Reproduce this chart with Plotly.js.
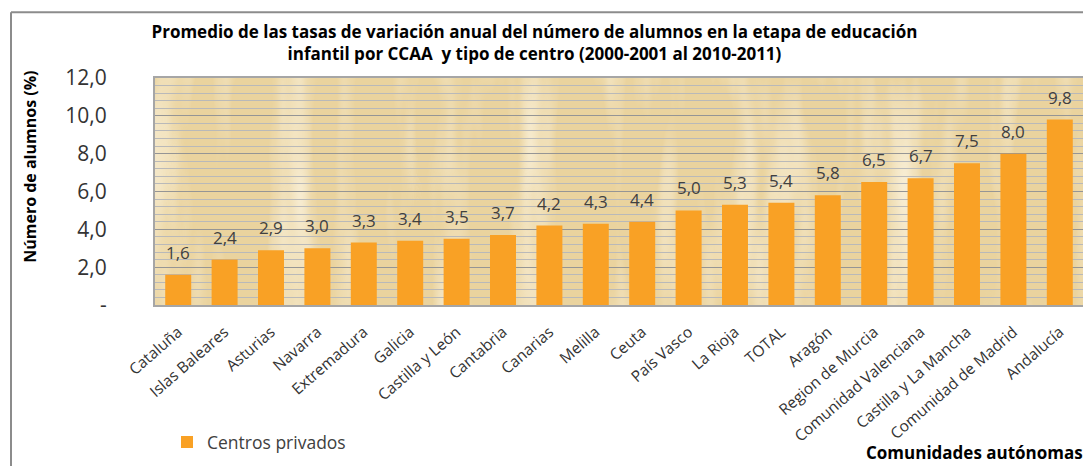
<!DOCTYPE html>
<html>
<head>
<meta charset="utf-8">
<script src="https://cdn.plot.ly/plotly-3.0.1.min.js"></script>
<style>
html,body{margin:0;padding:0;overflow:hidden;background:#fff;}
#chart{width:1083px;height:466px;}
</style>
</head>
<body>
<div id="chart"></div>
<script>
// ---- data ----
const categories = ["Cataluña","Islas Baleares","Asturias","Navarra","Extremadura","Galicia","Castilla y León","Cantabria","Canarias","Melilla","Ceuta","País Vasco","La Rioja","TOTAL","Aragón","Region de Murcia","Comunidad Valenciana","Castilla y La Mancha","Comunidad de Madrid","Andalucía"];
const values = [1.6,2.4,2.9,3.0,3.3,3.4,3.5,3.7,4.2,4.3,4.4,5.0,5.3,5.4,5.8,6.5,6.7,7.5,8.0,9.8];
const seriesName = "Centros privados";
const yTickVals = [0,2,4,6,8,10,12];
const yTickText = ["-","2,0","4,0","6,0","8,0","10,0","12,0"];
const titleLines = ["Promedio de las tasas de variación anual del número de alumnos en la etapa de educación","infantil por CCAA  y tipo de centro (2000-2001 al 2010-2011)"];
const yTitle = "Número de alumnos (%)";
const xTitle = "Comunidades autónomas";

const FONT = "Open Sans, Noto Sans, sans-serif";
const fmt = v => v.toFixed(1).replace('.', ',');

// papyrus-like texture for the plot background
const texture = "<svg xmlns='http://www.w3.org/2000/svg' width='928' height='228' viewBox='0 0 928 228' preserveAspectRatio='none'>" +
  "<filter id='f' x='0' y='0' width='100%' height='100%'><feTurbulence type='fractalNoise' baseFrequency='0.025 0.004' numOctaves='3' seed='4'/>" +
  "<feColorMatrix type='matrix' values='0 0 0 0 1  0 0 0 0 0.97  0 0 0 0 0.88  1.6 0 0 0 -0.75'/></filter>" +
  "<rect width='928' height='228' fill='#EAD39E'/><rect width='928' height='228' filter='url(#f)'/></svg>";

const trace = {
  type: 'bar',
  x: categories,
  y: values,
  name: seriesName,
  marker: {color: '#F9A125'},
  showlegend: true,
  hoverinfo: 'x+y'
};

const labelAnns = categories.map((c, i) => ({
  x: c, y: values[i], xref: 'x', yref: 'y',
  text: fmt(values[i]), showarrow: false,
  yanchor: 'bottom', yshift: 9,
  font: {family: FONT, size: 17, color: '#404040'}
}));

const layout = {
  width: 1083, height: 466,
  margin: {l: 155, r: 0, t: 78, b: 160.5, pad: 0},
  paper_bgcolor: '#ffffff',
  plot_bgcolor: '#EDD8A6',
  bargap: 0.44,
  font: {family: FONT, color: '#404040'},
  title: {
    text: '<b>' + titleLines.join('<br>') + '</b>',
    x: 0.4935, xref: 'container', xanchor: 'center',
    y: 1 - 38/466, yref: 'container', yanchor: 'middle',
    font: {family: FONT, size: 17, color: '#000000'}
  },
  xaxis: {
    type: 'category',
    tickangle: -41,
    tickfont: {family: FONT, size: 15.5, color: '#333333'},
    ticks: '', ticklabelstandoff: 10,
    showgrid: false,
    showline: true, linecolor: '#a6a6a6', linewidth: 2, mirror: true,
    fixedrange: true
  },
  yaxis: {
    range: [0, 12],
    tickvals: yTickVals, ticktext: yTickText,
    tickfont: {family: FONT, size: 21, color: '#333333'},
    ticks: '', ticklabelstandoff: 42,
    showgrid: true, gridcolor: '#959595', gridwidth: 1,
    minor: {dtick: 0.4, showgrid: true, gridcolor: '#b9b9b9', gridwidth: 1},
    zeroline: false,
    showline: true, linecolor: '#a6a6a6', linewidth: 2, mirror: true,
    fixedrange: true
  },
  showlegend: true,
  legend: {
    x: (167 - 155) / 928, xanchor: 'left',
    y: (305.5 - 443) / 227.5, yanchor: 'middle',
    orientation: 'h',
    bgcolor: 'rgba(0,0,0,0)',
    font: {family: FONT, size: 17.5, color: '#404040'}
  },
  images: [{
    source: 'data:image/svg+xml;charset=utf-8,' + encodeURIComponent(texture),
    xref: 'paper', yref: 'paper', x: 0, y: 1, sizex: 1, sizey: 1,
    xanchor: 'left', yanchor: 'top', sizing: 'stretch', layer: 'below'
  }],
  annotations: labelAnns.concat([
    {
      text: '<b>' + yTitle + '</b>', textangle: -90, showarrow: false,
      xref: 'paper', yref: 'paper',
      x: (30 - 155) / 928, y: (305.5 - 167) / 227.5,
      xanchor: 'center', yanchor: 'middle',
      font: {family: FONT, size: 16, color: '#000000'}
    },
    {
      text: '<b>' + xTitle + '</b>', showarrow: false,
      xref: 'paper', yref: 'paper',
      x: (864 - 155) / 928, y: (305.5 - 453) / 227.5,
      xanchor: 'left', yanchor: 'middle',
      font: {family: FONT, size: 17, color: '#000000'}
    }
  ]),
  shapes: [
    {type: 'line', xref: 'paper', yref: 'paper',
     x0: (11 - 155) / 928, x1: (1090 - 155) / 928,
     y0: (305.5 - 12) / 227.5, y1: (305.5 - 12) / 227.5,
     line: {color: '#8c8c8c', width: 2}},
    {type: 'line', xref: 'paper', yref: 'paper',
     x0: (11 - 155) / 928, x1: (11 - 155) / 928,
     y0: (305.5 - 12) / 227.5, y1: (305.5 - 470) / 227.5,
     line: {color: '#8c8c8c', width: 2}}
  ]
};

Plotly.newPlot('chart', [trace], layout, {displayModeBar: false, staticPlot: true});
</script>
</body>
</html>
